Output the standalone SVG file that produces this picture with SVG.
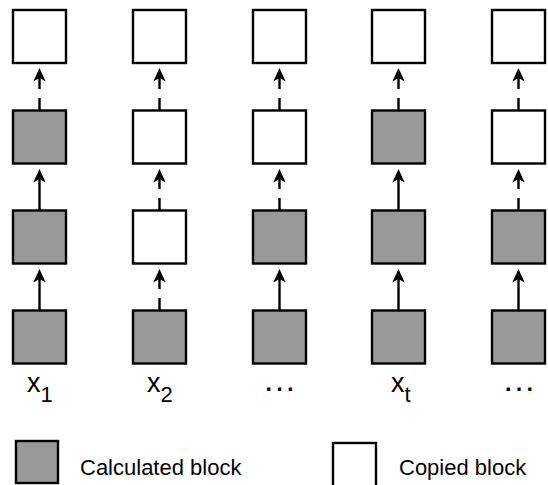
<svg xmlns="http://www.w3.org/2000/svg" width="548" height="485" viewBox="0 0 548 485">
<defs>
<style>
.calc{fill:#999999;stroke:#000;stroke-width:2.4}
.copy{fill:#ffffff;stroke:#000;stroke-width:2.4}
.solid{stroke:#000;stroke-width:2.4;fill:none;marker-end:url(#ah)}
.dash{stroke:#000;stroke-width:2.4;fill:none;stroke-dasharray:12 9;marker-end:url(#ah)}
.lbl{font-family:"Liberation Sans",Arial,sans-serif;font-size:27px;fill:#000}
.sub{font-size:22px}
.dots{font-family:"Liberation Sans",Arial,sans-serif;font-size:34px;fill:#000;text-anchor:middle}
.leg{font-family:"Liberation Sans",Arial,sans-serif;font-size:22px;fill:#000}
</style>
<marker id="ah" viewBox="0 -7 14 14" refX="9.5" refY="0" markerWidth="14" markerHeight="14" markerUnits="userSpaceOnUse" orient="auto">
<path d="M13.5,0 L0,-6.2 L3.5,0 L0,6.2 Z" fill="#000"/>
</marker>
</defs>
<rect width="548" height="485" fill="#fff"/>
<g id="connectors">
<line class="solid" x1="39.5" y1="310" x2="39.5" y2="273"/>
<line class="solid" x1="39.5" y1="210" x2="39.5" y2="173"/>
<line class="dash" x1="39.5" y1="110" x2="39.5" y2="72"/>
<line class="dash" x1="159.5" y1="310" x2="159.5" y2="273"/>
<line class="dash" x1="159.5" y1="210" x2="159.5" y2="173"/>
<line class="dash" x1="159.5" y1="110" x2="159.5" y2="72"/>
<line class="solid" x1="279.5" y1="310" x2="279.5" y2="273"/>
<line class="dash" x1="279.5" y1="210" x2="279.5" y2="173"/>
<line class="dash" x1="279.5" y1="110" x2="279.5" y2="72"/>
<line class="solid" x1="398.5" y1="310" x2="398.5" y2="273"/>
<line class="solid" x1="398.5" y1="210" x2="398.5" y2="173"/>
<line class="dash" x1="398.5" y1="110" x2="398.5" y2="72"/>
<line class="solid" x1="518.5" y1="310" x2="518.5" y2="273"/>
<line class="dash" x1="518.5" y1="210" x2="518.5" y2="173"/>
<line class="dash" x1="518.5" y1="110" x2="518.5" y2="72"/>
</g>
<g id="col1">
<rect id="b11" class="copy" x="13" y="10" width="53" height="53"/>
<rect id="b12" class="calc" x="13" y="110.5" width="53" height="53"/>
<rect id="b13" class="calc" x="13" y="210.5" width="53" height="53"/>
<rect id="b14" class="calc" x="13" y="310.5" width="53" height="53"/>
<text class="lbl" x="27" y="392">x<tspan class="sub" dy="10">1</tspan></text>
</g>
<g id="col2">
<rect id="b21" class="copy" x="133" y="10" width="53" height="53"/>
<rect id="b22" class="copy" x="133" y="110.5" width="53" height="53"/>
<rect id="b23" class="copy" x="133" y="210.5" width="53" height="53"/>
<rect id="b24" class="calc" x="133" y="310.5" width="53" height="53"/>
<text class="lbl" x="147" y="392">x<tspan class="sub" dy="10">2</tspan></text>
</g>
<g id="col3">
<rect id="b31" class="copy" x="253" y="10" width="53" height="53"/>
<rect id="b32" class="copy" x="253" y="110.5" width="53" height="53"/>
<rect id="b33" class="calc" x="253" y="210.5" width="53" height="53"/>
<rect id="b34" class="calc" x="253" y="310.5" width="53" height="53"/>
<text class="dots" x="279.5" y="391">…</text>
</g>
<g id="col4">
<rect id="b41" class="copy" x="372" y="10" width="53" height="53"/>
<rect id="b42" class="calc" x="372" y="110.5" width="53" height="53"/>
<rect id="b43" class="calc" x="372" y="210.5" width="53" height="53"/>
<rect id="b44" class="calc" x="372" y="310.5" width="53" height="53"/>
<text class="lbl" x="391" y="392">x<tspan class="sub" dy="10">t</tspan></text>
</g>
<g id="col5">
<rect id="b51" class="copy" x="492" y="10" width="53" height="53"/>
<rect id="b52" class="copy" x="492" y="110.5" width="53" height="53"/>
<rect id="b53" class="calc" x="492" y="210.5" width="53" height="53"/>
<rect id="b54" class="calc" x="492" y="310.5" width="53" height="53"/>
<text class="dots" x="519" y="391">…</text>
</g>
<g id="legend-calc">
<rect class="calc" x="16" y="441" width="42" height="42" stroke-width="2"/>
<text class="leg" x="80" y="475">Calculated block</text>
</g>
<g id="legend-copy">
<rect class="copy" x="333" y="443" width="43" height="46" stroke-width="2"/>
<text class="leg" x="399" y="475">Copied block</text>
</g>
</svg>
